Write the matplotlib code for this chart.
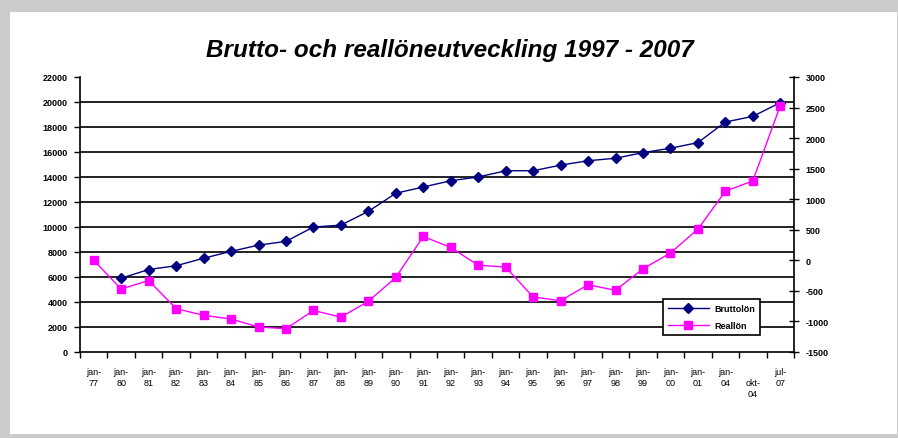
import matplotlib
matplotlib.use("Agg")
import matplotlib.pyplot as plt
from matplotlib.patches import Rectangle
import numpy as np

plt.rcParams['font.family'] = ['Liberation Sans', 'DejaVu Sans']

categories = ["jan-\n77", "jan-\n80", "jan-\n81", "jan-\n82", "jan-\n83", "jan-\n84",
              "jan-\n85", "jan-\n86", "jan-\n87", "jan-\n88", "jan-\n89", "jan-\n90",
              "jan-\n91", "jan-\n92", "jan-\n93", "jan-\n94", "jan-\n95", "jan-\n96",
              "jan-\n97", "jan-\n98", "jan-\n99", "jan-\n00", "jan-\n01", "jan-\n04",
              "\nokt-\n04", "jul-\n07"]

brutto = [np.nan, 5900, 6600, 6900, 7500, 8050, 8550, 8850, 10000, 10150, 11250, 12700,
          13200, 13700, 14000, 14500, 14500, 14950, 15300, 15500, 15950, 16300, 16750,
          18400, 18850, 19950]

real = [0, -470, -330, -790, -900, -960, -1090, -1120, -820, -930, -670, -280,
        390, 210, -80, -110, -600, -660, -400, -490, -140, 120, 510, 1130, 1300, 2530]

left_ticks = list(range(0, 22001, 2000))
right_ticks = list(range(-1500, 3001, 500))

W, H = 898, 439
fig = plt.figure(figsize=(W / 100, H / 100), dpi=100)
fig.patch.set_facecolor('#cccccc')
fig.patches.append(Rectangle((10 / W, 4 / H), 887 / W, (439 - 13 - 4) / H,
                             transform=fig.transFigure, facecolor='white',
                             edgecolor='none', zorder=-10))

x0, x1 = 80, 794
yt, yb = 78, 353
ax = fig.add_axes([x0 / W, 1 - yb / H, (x1 - x0) / W, (yb - yt) / H])
ax.set_facecolor('none')
ax2 = ax.twinx()
ax2.set_facecolor('none')

n = len(categories)
x = np.arange(n)
ax.set_xlim(-0.5, n - 0.5)
ax.set_ylim(0, 22000)
ax2.set_ylim(-1500, 3000)

for v in left_ticks[1:-1]:
    ax.axhline(v, color='#111111', lw=1.3, zorder=1)

ax.plot(x, brutto, color='#000080', lw=1.0, marker='D', ms=5, mfc='#000080',
        mec='#000080', zorder=3, label='Bruttolön')
ax2.plot(x, real, color='#ff00ff', lw=1.0, marker='s', ms=5.5, mfc='#ff00ff',
         mec='#ff00ff', zorder=3, label='Reallön')

# left axis
ax.set_yticks(left_ticks)
ax.set_yticklabels([str(v) for v in left_ticks], fontsize=6.5, fontweight='bold')
ax.tick_params(axis='y', direction='out', length=4, width=1, pad=5)

# x axis
ax.set_xticks(np.arange(n + 1) - 0.5, minor=False)
ax.set_xticklabels([])
ax.tick_params(axis='x', direction='out', length=4, width=1)
ax.set_xticks(x, minor=True)
ax.set_xticklabels(categories, minor=True, fontsize=6.5, linespacing=1.25)
ax.tick_params(axis='x', which='minor', length=0, pad=11)

# right axis
ax2.set_yticks(right_ticks)
ax2.set_yticklabels([str(v) for v in right_ticks], fontsize=6.5, fontweight='bold')
ax2.tick_params(axis='y', direction='inout', length=7, width=1, pad=5)

for a in (ax, ax2):
    a.spines['top'].set_visible(False)
for s in ('left', 'bottom'):
    ax.spines[s].set_linewidth(1.2)
ax.spines['right'].set_visible(False)
ax2.spines['left'].set_visible(False)
ax2.spines['bottom'].set_visible(False)
ax2.spines['right'].set_linewidth(1.2)

h1, l1 = ax.get_legend_handles_labels()
h2, l2 = ax2.get_legend_handles_labels()
leg = ax2.legend(h1 + h2, l1 + l2, loc='upper left',
                 bbox_to_anchor=((663 - x0) / (x1 - x0), (yb - 300) / (yb - yt)),
                 fontsize=6.5, frameon=True, fancybox=False, framealpha=1,
                 edgecolor='black', handlelength=4.5, borderpad=0.55,
                 labelspacing=0.9, handletextpad=0.6, borderaxespad=0)
leg.get_frame().set_linewidth(1.2)
for t in leg.get_texts():
    t.set_fontweight('bold')

fig.text((205 + 695) / 2 / W, 1 - 51 / H, "Brutto- och reallöneutveckling 1997 - 2007",
         ha='center', va='center', fontsize=17.5, fontweight='bold', style='italic')

fig.savefig('out.png', dpi=100, facecolor=fig.get_facecolor())
